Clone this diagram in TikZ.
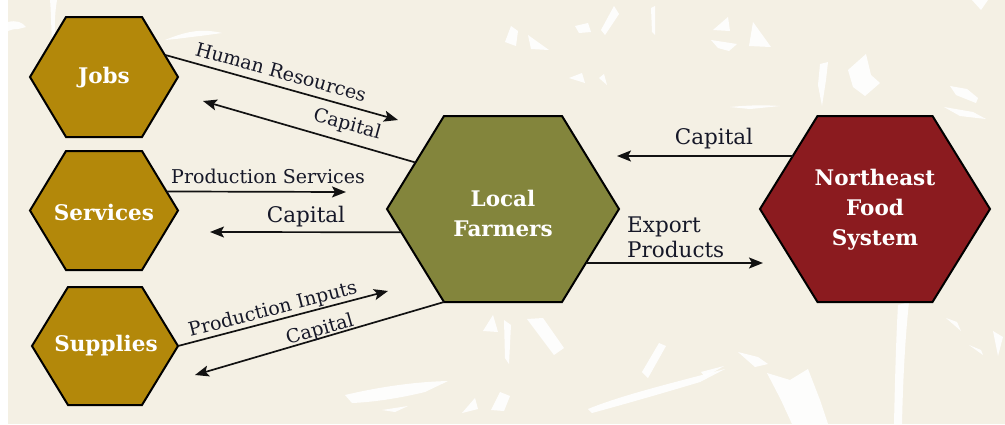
\documentclass[tikz,border=0pt]{standalone}
\usepackage{fontspec}
\setmainfont{DejaVu Serif}
\usetikzlibrary{arrows.meta,calc}
\definecolor{bg}{RGB}{244,240,228}
\definecolor{gold}{RGB}{179,136,10}
\definecolor{olive}{RGB}{131,133,60}
\definecolor{wine}{RGB}{139,27,31}
\definecolor{ink}{RGB}{18,18,18}
\definecolor{lbl}{RGB}{22,24,40}
\newcommand\myhex[7]{%
  \coordinate (#1) at (#2,#3);
  \coordinate (#1-L) at ({#2-#4},#3);
  \coordinate (#1-R) at ({#2+#4},#3);
  \coordinate (#1-TL) at ({#2-#6},{#3-#5});
  \coordinate (#1-TR) at ({#2+#6},{#3-#5});
  \coordinate (#1-BL) at ({#2-#6},{#3+#5});
  \coordinate (#1-BR) at ({#2+#6},{#3+#5});
  \filldraw[hexa,fill=#7] (#1-L) -- (#1-TL) -- (#1-TR) -- (#1-R) -- (#1-BR) -- (#1-BL) -- cycle;
}
\begin{document}
\begin{tikzpicture}[x=1pt,y=-1pt,
  hexa/.style={draw=black,line width=2pt,line join=miter},
  flow/.style={draw=ink,line width=1.7pt,-{Stealth[length=14pt,width=11pt,inset=3pt]}},
  elabel/.style={font=\fontsize{19}{24}\selectfont,text=lbl,inner sep=0pt},
  biglabel/.style={font=\fontsize{21.5}{25}\selectfont,text=lbl,inner sep=0pt},
  hlabel/.style={font=\fontsize{21.5}{30}\selectfont\bfseries,text=white,align=center,inner sep=0pt},
  streak/.style={fill=white,draw=none,fill opacity=0.9}
]
\useasboundingbox (0,0) rectangle (1005,424);
\fill[white] (0,0) rectangle (1005,424);
\fill[bg] (8,0) rectangle (1005,424);
% background streaks (small white flecks)
\fill[streak] (8,22) .. controls (16,20) and (22,22) .. (26,27) -- (18,29) .. controls (13,29) and (10,30) .. (8,31) -- cycle;
\fill[streak] (50,0) -- (57,0) .. controls (55,12) and (54,25) .. (56,45) -- (52,40) .. controls (51,25) and (51,10) .. cycle;
\fill[streak] (165,40) .. controls (185,32) and (200,28) .. (222,33) -- (200,36) .. controls (190,37) and (178,39) .. cycle;
\fill[streak] (505,42) -- (511,26) -- (518,31) -- (516,46) -- cycle;
\fill[streak] (528,35) -- (549,50) -- (531,49) -- cycle;
\fill[streak] (575,26) -- (588,23) -- (591,32) -- (579,33) -- cycle;
\fill[streak] (601,30) -- (614,6) -- (619,14) -- (605,35) -- cycle;
\fill[streak] (651,8) -- (655,6) -- (655,35) -- (652,32) -- cycle;
\fill[streak] (713,30) -- (728,17) -- (730,31) -- cycle;
\fill[streak] (711,40) -- (737,44) -- (729,51) -- (718,48) -- cycle;
\fill[streak] (753,22) -- (771,47) -- (749,46) -- cycle;
\fill[streak] (569,78) -- (582,73) -- (585,83) -- cycle;
\fill[streak] (599,78) -- (604,74) -- (607,85) -- cycle;
\fill[streak] (730,107) .. controls (750,105) and (765,105) .. (780,106) -- (750,109) -- cycle;
\fill[streak] (820,64) -- (828,62) -- (826,80) -- (822,106) -- (818,85) -- cycle;
\fill[streak] (848,70) -- (866,54) -- (871,75) -- (880,83) -- (865,96) -- (853,87) -- cycle;
\fill[streak] (950,86) -- (967,89) -- (978,98) -- (976,103) -- (956,95) -- cycle;
\fill[streak] (944,107) -- (973,112) -- (986,119) -- (960,116) -- cycle;
\fill[streak] (972,0) -- (988,0) -- (981,10) -- cycle;
% bottom
\fill[streak] (345,395) .. controls (375,388) and (410,382) .. (448,381) -- (425,392) .. controls (400,398) and (375,402) .. (352,403) -- cycle;
\fill[streak] (382,410) -- (408,406) -- (395,412) -- cycle;
\fill[streak] (483,331) -- (493,315) -- (498,332) -- cycle;
\fill[streak] (504,320) -- (511,325) -- (509,364) -- (505,358) -- cycle;
\fill[streak] (527,319) -- (543,318) -- (564,348) -- (554,355) -- cycle;
\fill[streak] (462,413) -- (475,398) -- (478,409) -- cycle;
\fill[streak] (491,410) -- (500,392) -- (510,396) -- (504,411) -- cycle;
\fill[streak] (588,409) .. controls (620,396) and (660,386) .. (725,369) -- (700,382) .. controls (660,394) and (625,404) .. (592,413) -- cycle;
\fill[streak] (642,372) -- (659,343) -- (666,346) -- (648,378) -- cycle;
\fill[streak] (738,352) -- (758,357) -- (768,364) -- (755,367) -- cycle;
\fill[streak] (767,373) -- (790,380) -- (808,369) -- (820,400) -- (828,424) -- (792,424) -- (781,400) -- cycle;
\fill[streak] (898,305) -- (909,302) .. controls (905,340) and (903,380) .. (902,424) -- (894,424) .. controls (895,380) and (896,340) .. cycle;
\fill[streak] (701,372) -- (724,366) -- (705,377) -- cycle;
\fill[streak] (946,318) -- (957,322) -- (961,331) -- cycle;
\fill[streak] (969,345) -- (981,350) -- (983,355) -- cycle;
\fill[streak] (993,331) -- (1003,337) -- (998,356) -- cycle;

% hexagons
\myhex{jobs}{104}{77}{74}{60}{38}{gold}
\myhex{serv}{104}{210.5}{74}{59.5}{38}{gold}
\myhex{supp}{105}{346}{73}{59}{37}{gold}
\myhex{lf}{503}{209}{116}{93}{59}{olive}
\myhex{ne}{875}{209}{115}{93}{57.5}{wine}

% node labels
\node[hlabel] (jl) at (104,78) {Jobs};
\node[hlabel] (sl) at (104,212) {Services};
\node[hlabel] (pl) at (106,346) {Supplies};
\node[hlabel] (fl) at (503,213) {Local\\Farmers};
\node[hlabel] (nl) at (875,210) {Northeast\\Food\\System};

% free ends of connectors
\coordinate (hrEnd) at (398,120);
\coordinate (cjEnd) at (203,101);
\coordinate (psEnd) at (346,192);
\coordinate (csEnd) at (210,232);
\coordinate (piEnd) at (388,291);
\coordinate (cpEnd) at (195,375);
\coordinate (cnEnd) at (617,156);
\coordinate (epEnd) at (763,263);

% connectors
\draw[flow] ($(jobs-TR)!0.63!(jobs-R)$) -- (hrEnd);
\draw[flow] ($(lf-L)!0.5!(lf-TL)$) -- (cjEnd);
\draw[flow] ($(serv-R)!0.32!(serv-TR)$) -- (psEnd);
\draw[flow] ($(lf-L)!0.25!(lf-BL)$) -- (csEnd);
\draw[flow] (supp-R) -- (piEnd);
\draw[flow] (lf-BL) -- (cpEnd);
\draw[flow] ($(ne-L)!0.57!(ne-TL)$) -- (cnEnd);
\draw[flow] ($(lf-R)!0.58!(lf-BR)$) -- (epEnd);

% connector labels
\node[elabel,rotate=-15.5] (hrL) at (281,72) {Human Resources};
\node[elabel,rotate=-15.5] (cjL) at (347,125) {Capital};
\node[elabel] (psL) at (268,176) {Production Services};
\node[biglabel] (csL) at (306,217) {Capital};
\node[elabel,rotate=14.5] (piL) at (273,310) {Production Inputs};
\node[elabel,rotate=16] (cpL) at (320,330) {Capital};
\node[biglabel] (cnL) at (714,139) {Capital};
\node[biglabel,align=left,anchor=west] (epL) at (627,237) {Export\\Products};
\end{tikzpicture}
\end{document}
